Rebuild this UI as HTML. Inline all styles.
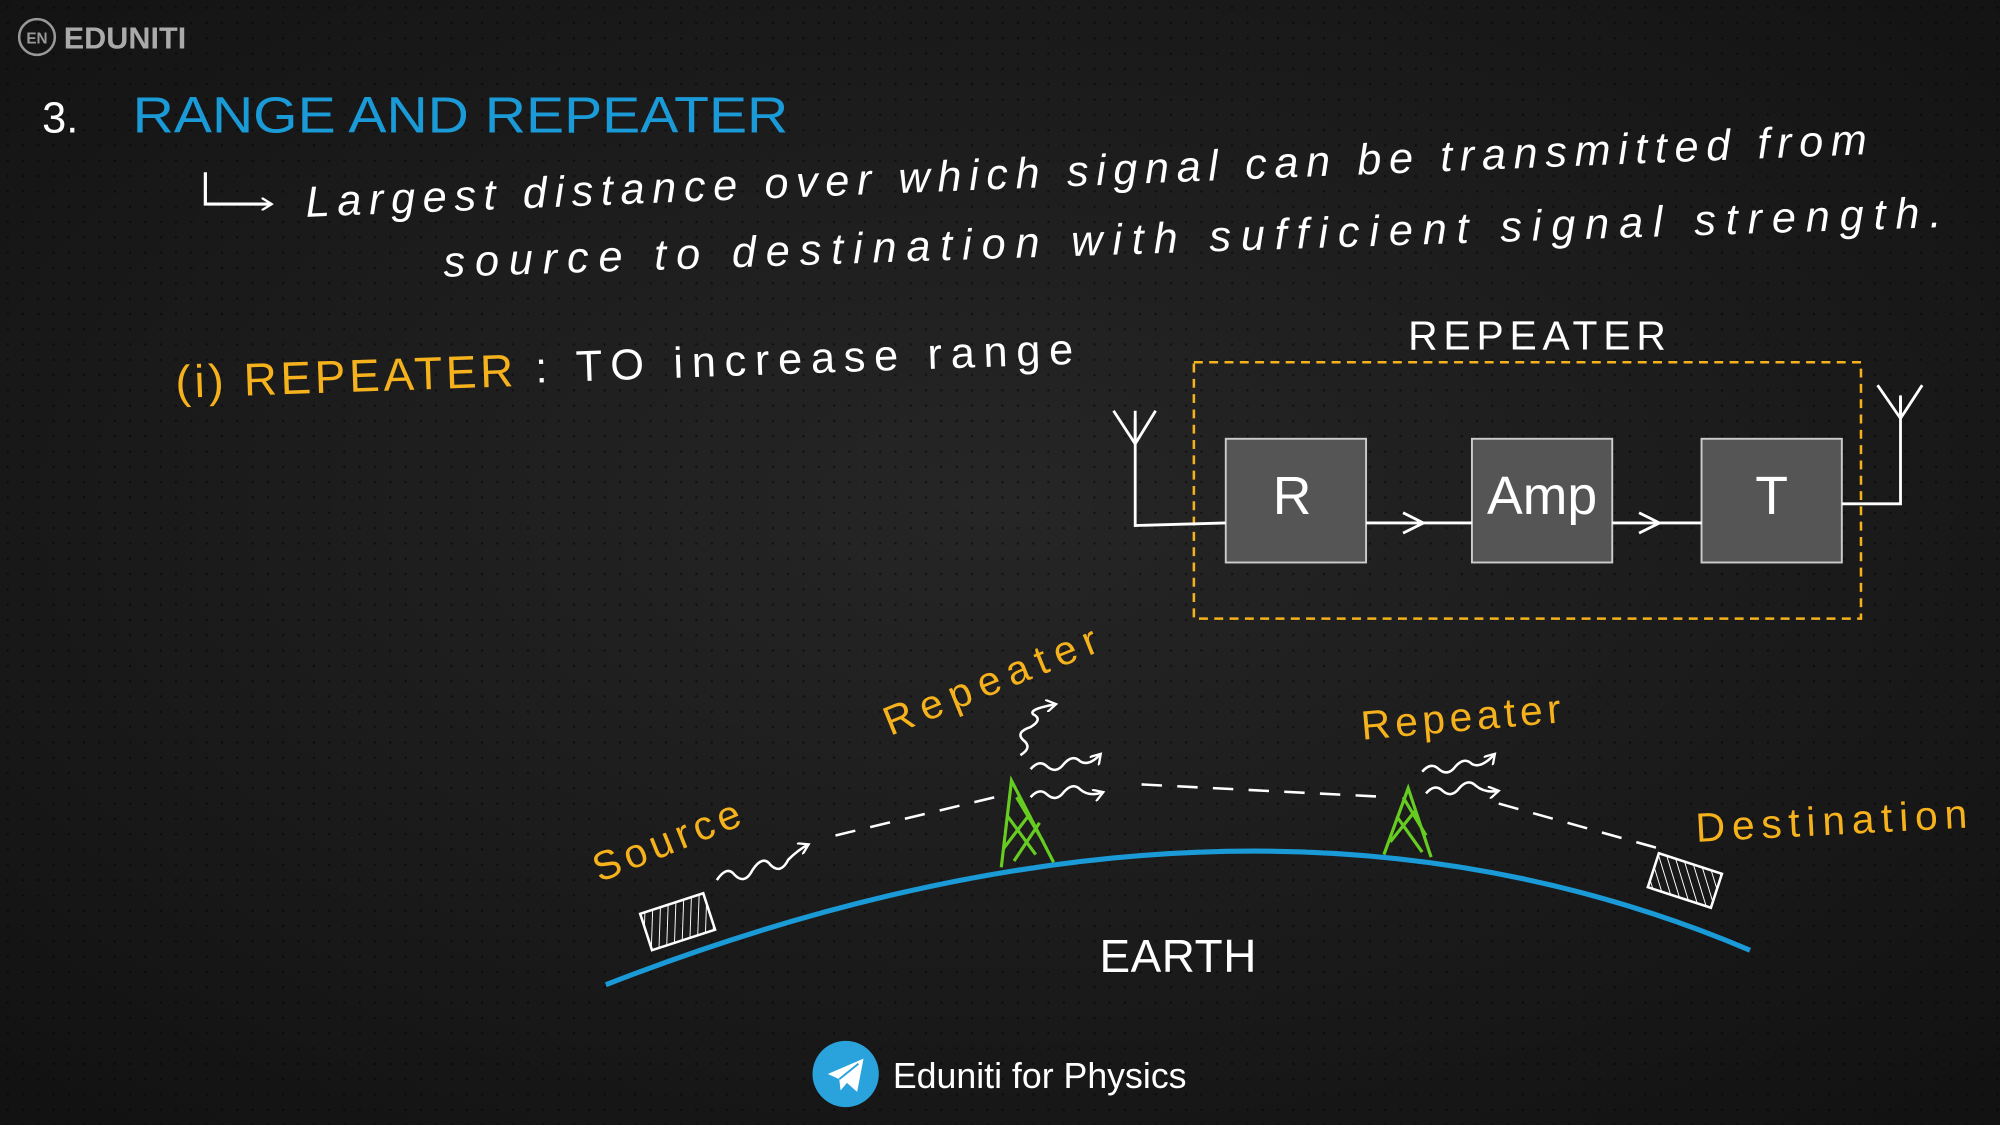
<!DOCTYPE html>
<html><head><meta charset="utf-8"><style>
html,body{margin:0;padding:0;background:#161616;}
svg{display:block}
text{font-family:"Liberation Sans","DejaVu Sans",sans-serif;}
</style></head><body>
<svg width="2000" height="1125" viewBox="0 0 1568 882" preserveAspectRatio="none" xmlns="http://www.w3.org/2000/svg">
<defs>
<radialGradient id="bg" cx="50%" cy="45%" r="75%">
<stop offset="0" stop-color="#262626"/><stop offset="1" stop-color="#111"/>
</radialGradient>
<pattern id="dots" width="12" height="12" patternUnits="userSpaceOnUse">
<circle cx="6" cy="6" r="1" fill="#000" opacity="0.45"/>
</pattern>
<pattern id="hatch" width="6" height="6" patternUnits="userSpaceOnUse" patternTransform="rotate(20)">
<line x1="0" y1="0" x2="0" y2="6" stroke="#fff" stroke-width="1.5"/>
</pattern>
<pattern id="hatch2" width="6" height="6" patternUnits="userSpaceOnUse" patternTransform="rotate(-35)">
<line x1="0" y1="0" x2="0" y2="6" stroke="#fff" stroke-width="1.5"/>
</pattern>
<marker id="ah" markerWidth="10" markerHeight="10" refX="8" refY="5" orient="auto" markerUnits="userSpaceOnUse">
<path d="M0,0 L8,5 L0,10" fill="none" stroke="#fff" stroke-width="1.8"/>
</marker>
</defs>
<rect width="1568" height="882" fill="url(#bg)"/>
<rect width="1568" height="882" fill="url(#dots)"/>

<circle cx="29" cy="29" r="14" fill="none" stroke="#999" stroke-width="2"/>
<text x="29" y="34" font-size="12" fill="#999" text-anchor="middle" font-weight="bold">EN</text>
<text x="50" y="38" font-size="24" fill="#aaa" font-weight="bold">EDUNITI</text>

<text x="33" y="104" font-size="34" fill="#fff">3.</text>
<text x="104" y="104" font-size="40" fill="#1a9ad6" textLength="514" lengthAdjust="spacingAndGlyphs">RANGE AND REPEATER</text>

<path d="M161,135 L161,160 L213,160" fill="none" stroke="#fff" stroke-width="2.5" marker-end="url(#ah)"/>
<text x="240" y="170" font-size="34" fill="#fff" font-style="italic" transform="rotate(-2.3 240 170)" textLength="1225" lengthAdjust="spacing">Largest distance over which signal can be transmitted from</text>
<text x="348" y="217" font-size="34" fill="#fff" font-style="italic" transform="rotate(-1.9 348 217)" textLength="1175" lengthAdjust="spacing">source to destination with sufficient signal strength.</text>

<text x="138" y="312" font-size="36" fill="#f5b21c" transform="rotate(-2 138 312)" textLength="265" lengthAdjust="spacing">(i) REPEATER</text>
<text x="420" y="300" font-size="34" fill="#fff" transform="rotate(-2 420 300)" textLength="422" lengthAdjust="spacing">: TO increase range</text>

<text x="1104" y="274" font-size="32" fill="#fff" textLength="202" lengthAdjust="spacing">REPEATER</text>
<rect x="936" y="284" width="523" height="201" fill="none" stroke="#f5b21c" stroke-width="2" stroke-dasharray="7,5"/>
<g fill="#555" stroke="#ccc" stroke-width="1.5">
<rect x="961" y="344" width="110" height="97"/>
<rect x="1154" y="344" width="110" height="97"/>
<rect x="1334" y="344" width="110" height="97"/>
</g>
<g fill="#fff" font-size="42" text-anchor="middle">
<text x="1013" y="403">R</text>
<text x="1209" y="403">Amp</text>
<text x="1389" y="403">T</text>
</g>
<g stroke="#fff" stroke-width="2.2" fill="none">
<path d="M890,328 L890,412 L961,410"/>
<path d="M873,322 L890,348 L906,322 M890,322 L890,348"/>
<path d="M1071,410 L1154,410"/><path d="M1100,402 L1116,410 L1100,418"/>
<path d="M1264,410 L1334,410"/><path d="M1285,402 L1301,410 L1285,418"/>
<path d="M1444,395 L1490,395 L1490,312"/>
<path d="M1472,302 L1490,328 L1507,302 M1490,310 L1490,328"/>
</g>

<path d="M475,772 Q976,577 1372,745" fill="none" stroke="#1a9ad6" stroke-width="4"/>
<text x="862" y="762" font-size="36" fill="#fff" textLength="123" lengthAdjust="spacing">EARTH</text>

<g transform="rotate(-18 530 722)"><rect x="505" y="708" width="52" height="30" fill="url(#hatch)" stroke="#fff" stroke-width="2"/></g>
<g transform="rotate(18 1320 690)"><rect x="1295" y="676" width="52" height="28" fill="url(#hatch2)" stroke="#fff" stroke-width="2"/></g>

<g stroke="#66cc22" stroke-width="2.5" fill="none">
<path d="M785,680 L793,612 L826,676 M790,640 L812,670 M787,665 L806,640 M797,625 L818,660 M795,675 L815,645"/>
<path d="M1085,670 L1104,618 L1122,672 M1095,640 L1115,668 M1090,660 L1110,635 M1100,625 L1118,655"/>
</g>

<g stroke="#fff" stroke-width="2" stroke-dasharray="16,12" fill="none">
<path d="M655,655 L780,625"/>
<path d="M895,615 L1090,625"/>
<path d="M1175,630 L1300,665"/>
</g>

<g stroke="#fff" stroke-width="2" fill="none">
<path d="M562,690 q8,-12 14,-4 q8,8 14,-4 q8,-12 14,-4 q8,8 14,-4 q8,-8 16,-12" marker-end="url(#ah)"/>
<path d="M808,603 q7,-8 13,-2 q7,6 13,-2 q7,-8 13,-2 q7,4 16,-6" marker-end="url(#ah)"/>
<path d="M808,625 q7,-8 13,-2 q7,6 13,-2 q7,-8 13,-2 q7,6 18,2" marker-end="url(#ah)"/>
<path d="M800,592 q10,-6 2,-12 q-6,-6 6,-10 q10,-6 2,-10 q-4,-4 18,-8" marker-end="url(#ah)"/>
<path d="M1115,605 q7,-8 13,-2 q7,6 13,-2 q7,-8 13,-2 q7,4 18,-8" marker-end="url(#ah)"/>
<path d="M1118,622 q7,-8 13,-2 q7,6 13,-2 q7,-8 13,-2 q7,6 18,4" marker-end="url(#ah)"/>
</g>

<g fill="#f5b21c" font-size="32">
<text x="470" y="692" transform="rotate(-22 470 692)" textLength="122" lengthAdjust="spacing">Source</text>
<text x="698" y="577" transform="rotate(-22 698 577)" textLength="178" lengthAdjust="spacing">Repeater</text>
<text x="1068" y="580" transform="rotate(-5 1068 580)" textLength="157" lengthAdjust="spacing">Repeater</text>
<text x="1330" y="660" transform="rotate(-3 1330 660)" textLength="213" lengthAdjust="spacing">Destination</text>
</g>

<circle cx="663" cy="842" r="26" fill="#2aa3dc"/>
<path d="M649,842 L677,830 L672,856 L664,849 L659,855 L658,846 Z" fill="#fff"/>
<path d="M658,846 L673,834" stroke="#2aa3dc" stroke-width="1.5"/>
<text x="700" y="853" font-size="28" fill="#fff">Eduniti for Physics</text>
</svg>
</body></html>
